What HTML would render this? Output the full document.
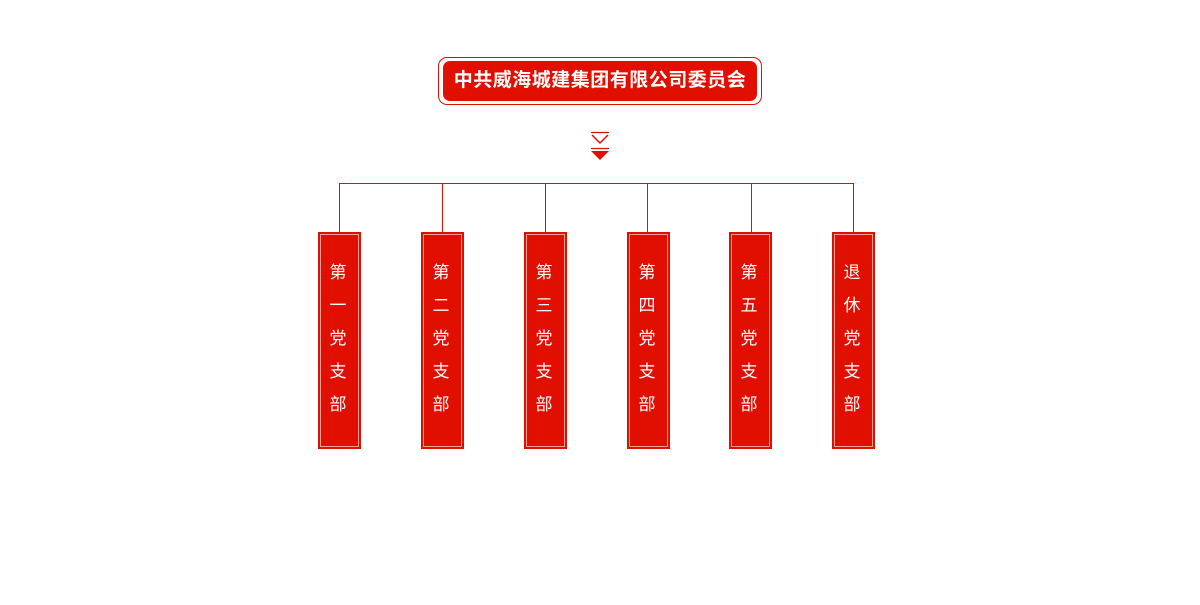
<!DOCTYPE html>
<html><head><meta charset="utf-8"><style>
body{margin:0;width:1200px;height:605px;background:#fff;position:relative;font-family:"Liberation Sans","Noto Sans CJK SC",sans-serif;overflow:hidden}
.t{position:absolute;left:438px;top:57px;width:322px;height:46px;border:1px solid #e00f00;border-radius:9px}
.t div{position:absolute;left:4px;top:3px;right:4px;bottom:3px;background:#e00f00;border-radius:7px;color:#fff;font-weight:bold;font-size:19px;letter-spacing:0.5px;line-height:40px;text-align:center}
.b{position:absolute;top:232px;width:41px;height:215px;background:#e00f00;border:1px solid #e00f00}
.b div{position:absolute;left:1px;top:1px;right:1px;bottom:1px;border:1px solid #f6a09a;color:#fff;font-size:17px;text-align:center;line-height:33px;padding-top:21px;padding-right:3px;box-sizing:border-box}
.v{position:absolute;top:183px;width:1px;height:49px;background:#e00f00}
</style></head><body>
<div class="t"><div>中共威海城建集团有限公司委员会</div></div>
<svg style="position:absolute;left:585px;top:128px" width="30" height="36">
<line x1="6" y1="4.5" x2="24" y2="4.5" stroke="#e00f00" stroke-width="1.2"/>
<polyline points="7,7 15,15 23,7" fill="none" stroke="#e00f00" stroke-width="1.5"/>
<line x1="6" y1="20.5" x2="24" y2="20.5" stroke="#e00f00" stroke-width="1.2"/>
<polygon points="6,23 24,23 15,32" fill="#e00f00"/>
</svg>
<div style="position:absolute;left:339px;top:183px;width:515px;height:1px;background:#e00f00"></div>
<div class="v" style="left:339px"></div><div class="v" style="left:442px"></div><div class="v" style="left:545px"></div><div class="v" style="left:647px"></div><div class="v" style="left:751px"></div><div class="v" style="left:853px"></div>
<div class="b" style="left:318px"><div>第<br>一<br>党<br>支<br>部</div></div>
<div class="b" style="left:421px"><div>第<br>二<br>党<br>支<br>部</div></div>
<div class="b" style="left:524px"><div>第<br>三<br>党<br>支<br>部</div></div>
<div class="b" style="left:627px"><div>第<br>四<br>党<br>支<br>部</div></div>
<div class="b" style="left:729px"><div>第<br>五<br>党<br>支<br>部</div></div>
<div class="b" style="left:832px"><div>退<br>休<br>党<br>支<br>部</div></div>
</body></html>
